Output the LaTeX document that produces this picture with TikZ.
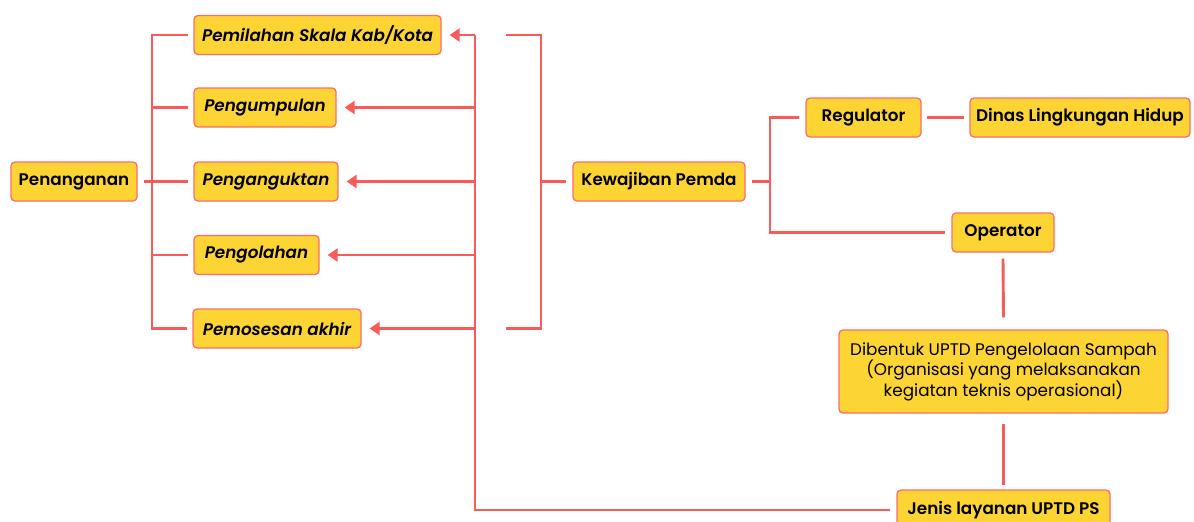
\documentclass[tikz,border=0pt]{standalone}
\usepackage{fontspec}
\setmainfont{Poppins}[BoldFont={Poppins SemiBold},BoldItalicFont={Poppins SemiBold Italic}]
\usetikzlibrary{arrows.meta}
\definecolor{boxy}{HTML}{FCD535}
\definecolor{bord}{HTML}{FF6B6B}
\definecolor{lin}{HTML}{F95A5A}
\tikzset{
  box/.style={draw=bord, fill=boxy, line width=1.3pt, rounded corners=4pt, text=black,
    inner sep=0pt, minimum height=39pt, font=\bfseries\fontsize{16.8}{19}\selectfont},
  ibox/.style={box, font=\bfseries\itshape\fontsize{16.8}{19}\selectfont},
  conn/.style={draw=lin, line width=2.9pt},
  arr/.style={conn, -{Triangle[length=10pt,width=13pt]}}
}
\begin{document}
\begin{tikzpicture}[x=1pt,y=-1pt]
\useasboundingbox (0,0) rectangle (1194,522);
% left nodes
\node[box, minimum width=126pt] (pen) at (74,181.5) {Penanganan};
\node[ibox, minimum width=247pt] (n1) at (317.5,35) {Pemilahan Skala Kab/Kota};
\node[ibox, minimum width=142pt] (n2) at (265,107.5) {Pengumpulan};
\node[ibox, minimum width=144pt] (n3) at (266,181.5) {Penganguktan};
\node[ibox, minimum width=125pt] (n4) at (256.5,255) {Pengolahan};
\node[ibox, minimum width=168pt] (n5) at (277,328.5) {Pemosesan akhir};
% right nodes
\node[box, minimum width=172pt] (kew) at (659,181.5) {Kewajiban Pemda};
\node[box, minimum width=115pt] (reg) at (863.5,117.5) {Regulator};
\node[box, minimum width=220pt] (din) at (1080,117.5) {Dinas Lingkungan Hidup};
\node[box, minimum width=102pt] (op) at (1003,232.5) {Operator};
\node[box, minimum width=329pt, minimum height=83pt, align=center,
  font=\fontsize{16.8}{20.5}\selectfont] (dib) at (1003.5,371.5)
  {Dibentuk UPTD Pengelolaan Sampah\\(Organisasi yang melaksanakan\\kegiatan teknis operasional)};
\node[box, minimum width=213pt, minimum height=40pt] (jen) at (1003.5,510) {Jenis layanan UPTD PS};
% coordinates
\coordinate (L1) at (152,35);
\coordinate (L5) at (152,328.5);
\coordinate (R1) at (475,35);
\coordinate (RB) at (475,510);
\coordinate (T1) at (506,35);
\coordinate (T5) at (506,328.5);
\coordinate (K1) at (541,35);
\coordinate (K5) at (541,328.5);
\coordinate (J) at (770,181.5);
% left bracket
\draw[conn] ([xshift=-5pt]n1.west) -- (L1) -- (L5) -- ([xshift=-5pt]n5.west);
\draw[conn] (L1 |- n2) -- ([xshift=-5pt]n2.west);
\draw[conn] (L1 |- n3) -- ([xshift=-5pt]n3.west);
\draw[conn] (L1 |- n4) -- ([xshift=-5pt]n4.west);
\draw[conn] ([xshift=6pt]pen.east) -- (L1 |- pen);
% right spine and arrows
\draw[conn] (R1) -- (RB) -- ([xshift=-6pt]jen.west);
\draw[arr] (R1) -- ([xshift=8pt]n1.east);
\draw[arr] (R1 |- n2) -- ([xshift=8pt]n2.east);
\draw[arr] (R1 |- n3) -- ([xshift=8pt]n3.east);
\draw[arr] (R1 |- n4) -- ([xshift=8pt]n4.east);
\draw[arr] (R1 |- n5) -- ([xshift=8pt]n5.east);
% Kewajiban bracket
\draw[conn] (T1) -- (K1) -- (K5) -- (T5);
\draw[conn] (K1 |- kew) -- ([xshift=-6pt]kew.west);
% Kewajiban to regulator/operator
\draw[conn] ([xshift=6pt]kew.east) -- (J);
\draw[conn] ([xshift=-6pt]reg.west) -- (J |- reg) -- (J |- op) -- ([xshift=-6pt]op.west);
\draw[conn] ([xshift=5pt]reg.east) -- ([xshift=-5pt]din.west);
\draw[conn] ([yshift=-6pt]op.south) -- ([yshift=12pt]dib.north);
\draw[conn] ([yshift=-10pt]dib.south) -- ([yshift=4pt]jen.north);
\end{tikzpicture}
\end{document}
